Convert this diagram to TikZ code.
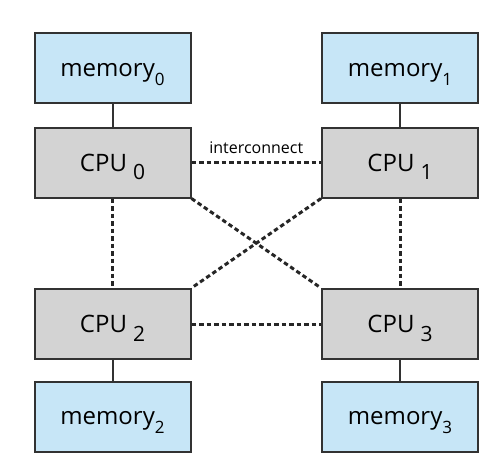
\documentclass[tikz,border=0pt]{standalone}
\usepackage{fontspec}
\setmainfont{Open Sans}
\usepackage{tikz}
\usetikzlibrary{calc}

\definecolor{membg}{RGB}{199,230,247}
\definecolor{cpubg}{RGB}{211,211,211}
\definecolor{boxline}{RGB}{50,50,50}

\newcommand{\memsub}[1]{\raisebox{-9pt}[0pt][0pt]{\fontsize{17}{17}\selectfont#1}}
\newcommand{\cpusub}[1]{\hspace{6pt}\raisebox{-8.5pt}[0pt][0pt]{\fontsize{21}{21}\selectfont#1}}

\begin{document}
\begin{tikzpicture}[x=1pt,y=-1pt]
          \tikzstyle{memvertex}=[rectangle,draw=boxline,line width=2pt,fill=membg,minimum width=156pt,minimum height=70pt,inner sep=0pt,text height=16pt,text depth=0pt,font=\fontsize{24}{24}\selectfont]
          \tikzstyle{cpuvertex}=[rectangle,draw=boxline,line width=2pt,fill=cpubg,minimum width=156pt,minimum height=70pt,inner sep=0pt,text height=17pt,text depth=0pt,font=\fontsize{24}{24}\selectfont]
          \tikzstyle{edge}=[draw=boxline,line width=2pt]
          \tikzstyle{iedge}=[draw=black!85,line width=3pt,dash pattern=on 4.5pt off 3pt]
          \useasboundingbox (0,0) rectangle (500,471);
          \node[memvertex] (m0) at (112.5,68) {memory\memsub{0}};
          \node[memvertex] (m1) at (400,68) {memory\memsub{1}};
          \node[cpuvertex] (c0) at (112.5,162.5) {CPU\cpusub{0}};
          \node[cpuvertex] (c1) at (400,162.5) {CPU\cpusub{1}};
          \node[cpuvertex] (c2) at (112.5,324) {CPU\cpusub{2}};
          \node[cpuvertex] (c3) at (400,324) {CPU\cpusub{3}};
          \node[memvertex] (m2) at (112.5,416.5) {memory\memsub{2}};
          \node[memvertex] (m3) at (400,416.5) {memory\memsub{3}};
          \foreach \i in {0,1,2,3}{
            \draw[edge] (m\i) -- (c\i);
            }
          \draw[iedge] (c0) -- node[above=4pt,font=\fontsize{16}{16}\selectfont] (lbl) {interconnect} (c1);
          \draw[iedge] (c2) -- (c3);
          \draw[iedge] (c0) -- (c2);
          \draw[iedge] (c1) -- (c3);
          \draw[iedge] (c0.south east) -- (c3.north west);
          \draw[iedge] (c1.south west) -- (c2.north east);
        \end{tikzpicture}
\end{document}
